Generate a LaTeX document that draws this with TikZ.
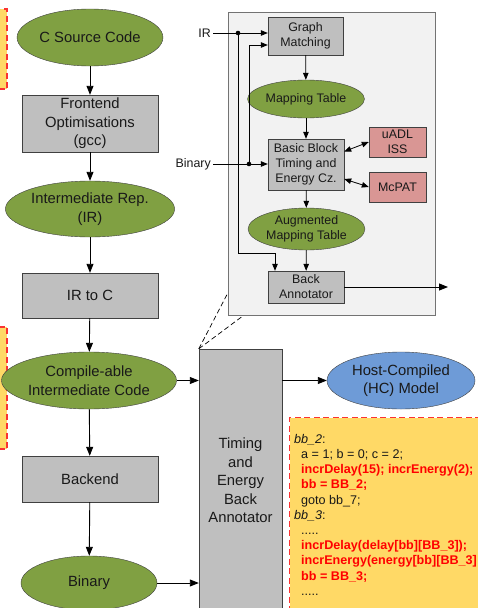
\documentclass[tikz,border=0pt]{standalone}
\usepackage{fontspec}
\setmainfont{Liberation Sans}
\usetikzlibrary{arrows.meta,shapes.geometric}

\definecolor{olivefill}{RGB}{128,160,66}
\definecolor{boxgray}{RGB}{191,191,191}
\definecolor{panelgray}{RGB}{242,242,242}
\definecolor{toolpink}{RGB}{217,150,148}
\definecolor{hcblue}{RGB}{110,155,215}
\definecolor{noteyellow}{RGB}{255,217,102}
\definecolor{notered}{RGB}{250,50,50}
\definecolor{codered}{RGB}{255,0,0}

\tikzset{
  procbox/.style={rectangle, draw=black!75, fill=boxgray, text=black!90, align=center, inner sep=2pt},
  dataell/.style={ellipse, draw=black!75, fill=olivefill, text=black!90, align=center, inner sep=1pt},
  note/.style={rectangle, draw=notered, dash pattern=on 6pt off 3.5pt, fill=noteyellow, line width=1.2pt},
  arr/.style={-{Triangle[length=9pt,width=7pt]}, black, line width=0.9pt},
}

\begin{document}
\begin{tikzpicture}[x=1pt, y=-1pt,
  flowbox/.style={procbox, minimum width=136pt, font=\fontsize{14.8}{18.5}\selectfont},
  flowell/.style={dataell, font=\fontsize{14.8}{18.5}\selectfont},
  panel/.style={rectangle, draw=black!55, fill=panelgray, line width=0.8pt},
  smallbox/.style={procbox, font=\fontsize{12.4}{15}\selectfont},
  smallell/.style={dataell, font=\fontsize{12.4}{15}\selectfont},
  toolbox/.style={procbox, fill=toolpink, minimum width=57pt, minimum height=30pt,
                  font=\fontsize{12.4}{15}\selectfont},
  lbl/.style={inner sep=2pt, text=black!90, font=\fontsize{12.4}{15}\selectfont},
  sarr/.style={-{Triangle[length=7pt,width=5.5pt]}, black, line width=0.8pt},
  dblarr/.style={{Triangle[length=7pt,width=5.5pt]}-{Triangle[length=7pt,width=5.5pt]}, black, line width=0.8pt},
  zoomline/.style={dash pattern=on 5pt off 3pt, black, line width=0.7pt},
  codetext/.style={inner sep=0pt, align=left, text=black!90, font=\fontsize{12.6}{15.2}\selectfont}
]
  \useasboundingbox (0,0) rectangle (477,608);

  % notes cut by the left edge
  \node[note, minimum width=18pt, minimum height=80pt] (noteA) at (-2,49) {};
  \node[note, minimum width=18pt, minimum height=122pt] (noteB) at (-2,388) {};

  % compile flow
  \node[flowell, minimum width=137pt, minimum height=57pt] (csrc) at (90,37.5) {C Source Code};
  \node[flowbox, minimum height=57pt] (front) at (90,123.5) {Frontend\\Optimisations\\(gcc)};
  \node[flowell, minimum width=136pt, minimum height=56pt] (irep) at (90,209) {Intermediate Rep.\\(IR)};
  \node[flowbox, minimum height=45pt] (irtoc) at (90,295.5) {IR to C};
  \node[flowell, minimum width=154pt, minimum height=57pt] (cic) at (89,380.5) {Compile-able\\Intermediate Code};
  \node[flowbox, minimum height=46pt] (backend) at (90,479) {Backend};
  \node[flowell, minimum width=136pt, minimum height=54pt] (bin) at (89,583) {Binary};

  \node[flowbox, minimum width=83pt, minimum height=263pt] (tba) at (240.5,480.5)
        {Timing\\and\\Energy\\Back\\Annotator};
  \node[flowell, fill=hcblue, minimum width=148pt, minimum height=57pt] (hcm) at (401,380.5)
        {Host-Compiled\\(HC) Model};

  % annotated code
  \node[note, minimum width=200pt, minimum height=200pt, anchor=north west] (codebox) at (289,417) {};
  \node[codetext, anchor=north west] (code) at (294,434)
        {\textit{bb\_2}:\\
         \hspace*{7pt}a = 1; b = 0; c = 2;\\
         \hspace*{7pt}{\color{codered}\bfseries incrDelay(15); incrEnergy(2);}\\
         \hspace*{7pt}{\color{codered}\bfseries bb = BB\_2;}\\
         \hspace*{7pt}goto bb\_7;\\
         \textit{bb\_3}:\\
         \hspace*{7pt}.....\\
         \hspace*{7pt}{\color{codered}\bfseries incrDelay(delay[bb][BB\_3]);}\\
         \hspace*{7pt}{\color{codered}\bfseries incrEnergy(energy[bb][BB\_3]}\\
         \hspace*{7pt}{\color{codered}\bfseries bb = BB\_3;}\\
         \hspace*{7pt}.....};

  % detail of the back annotator
  \node[panel, minimum width=207pt, minimum height=303pt] (panel) at (331.5,163.5) {};
  \node[smallbox, minimum width=75pt, minimum height=38pt] (gm) at (305.5,36) {Graph\\Matching};
  \node[smallell, minimum width=100pt, minimum height=38pt] (mt) at (306,99) {Mapping Table};
  \node[smallbox, minimum width=76pt, minimum height=51pt] (bbt) at (306,164.5) {Basic Block\\Timing and\\Energy Cz.};
  \node[toolbox] (uadl) at (397.5,142) {uADL\\ISS};
  \node[toolbox] (mcpat) at (397.5,187) {McPAT};
  \node[smallell, minimum width=101pt, minimum height=42pt] (amt) at (306.5,229) {Augmented\\Mapping Table};
  \node[smallbox, minimum width=76pt, minimum height=32pt] (ba) at (306,287) {Back\\Annotator};

  \node[lbl, anchor=east] (irlbl) at (213,33) {IR};
  \node[lbl, anchor=east] (binlbl) at (213,164) {Binary};
  \coordinate (irdot) at (238,33);
  \coordinate (bindot) at (249,164);
  \coordinate (irturn) at (238,253);
  \coordinate (baout) at (448,287);

  \draw[sarr] (irlbl.east) -- (irlbl.east -| gm.west);
  \draw[sarr] (binlbl.east) -- (binlbl.east -| bbt.west);
  \draw[sarr] (irdot) -- (irturn) -| ([xshift=-31pt]ba.north);
  \draw[sarr] (bindot) |- ([yshift=-9pt]gm.west);
  \fill (irdot) circle (2.3pt);
  \fill (bindot) circle (2.3pt);
  \draw[sarr] (gm) -- (mt);
  \draw[sarr] (mt) -- (bbt);
  \draw[sarr] (bbt) -- (amt);
  \draw[sarr] (amt) -- (ba);
  \draw[dblarr] ([yshift=13pt]bbt.east) -- (uadl.west);
  \draw[dblarr] ([yshift=-14.5pt]bbt.east) -- (mcpat.west);
  \draw[arr] (ba.east) -- (baout);

  \draw[zoomline] (tba.north west) -- ([yshift=22pt]panel.south west);
  \draw[zoomline] (tba.north west) -- ([xshift=16pt]panel.south west);

  % main flow
  \draw[arr] (csrc) -- (front);
  \draw[arr] (front) -- (irep);
  \draw[arr] (irep) -- (irtoc);
  \draw[arr] (irtoc) -- (cic);
  \draw[arr] (cic) -- (backend);
  \draw[arr] (backend) -- (bin);
  \draw[arr] (cic.east) -- (cic.east -| tba.west);
  \draw[arr] (bin.east) -- (bin.east -| tba.west);
  \draw[arr] (tba.east |- hcm.west) -- (hcm.west);
\end{tikzpicture}
\end{document}
